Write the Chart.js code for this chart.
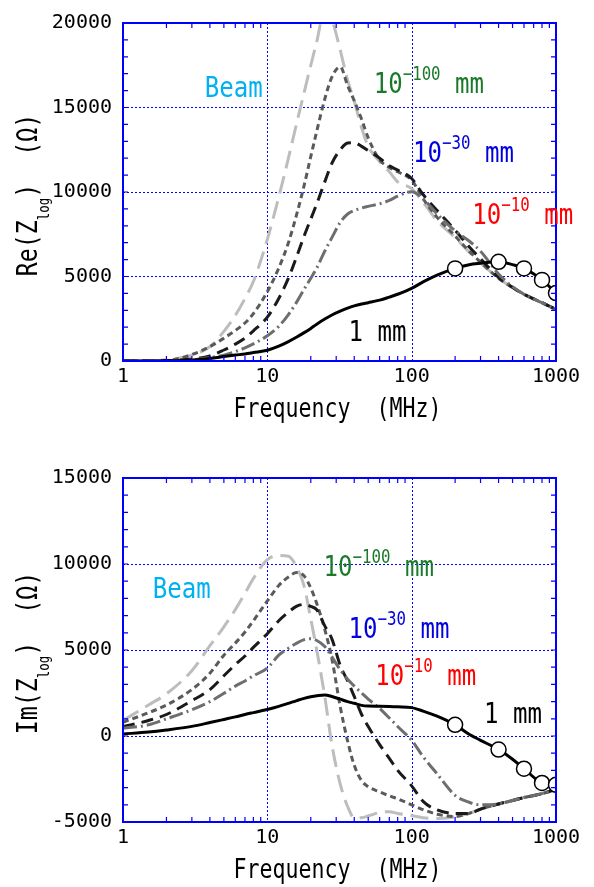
<!DOCTYPE html>
<html>
<head>
<meta charset="utf-8">
<script src="https://cdn.jsdelivr.net/npm/chart.js@4"></script>
<style>
  body { margin: 0; background: #fff; }
  #top, #bottom { position: absolute; left: 0; }
  #top { top: 0; }
  #bottom { top: 440px; }
</style>
</head>
<body>
<canvas id="top" width="594" height="440"></canvas>
<canvas id="bottom" width="594" height="447"></canvas>
<script>
// frequency points (MHz)
const FREQ = [1, 1.5, 2, 3, 4, 5, 6, 7, 8, 10, 12, 14, 16, 18, 20, 22, 25, 28, 32, 36, 40, 45, 50, 60, 70, 80, 100, 120, 150, 200, 250, 300, 400, 500, 600, 800, 1000];
const MEASURED = [200, 400, 600, 800, 1000];
const X_TICKS = [1, 10, 100, 1000];

// Re(Z_log) in ohm
const RE_BEAM = [0, 10, 80, 350, 850, 1750, 2700, 3700, 4700, 7200, 9700, 12000, 14100, 15900, 17500, 18900, 20800, 20200, 18400, 16600, 15400, 13800, 12700, 11800, 11200, 10600, 10200, 9400, 8300, 7300, 6450, 5800, 4900, 4350, 3950, 3450, 3050];
const RE_M100 = [0, 0, 30, 380, 850, 1350, 1800, 2250, 2800, 4100, 5500, 7000, 8700, 10400, 12100, 13600, 15500, 16800, 17400, 16300, 15400, 14300, 13200, 11900, 11450, 11200, 10700, 9600, 8500, 7400, 6500, 5850, 4900, 4350, 3950, 3450, 3050];
const RE_M30 = [0, 0, 20, 120, 300, 650, 1000, 1350, 1780, 2600, 3700, 4900, 6200, 7400, 8400, 9300, 10600, 11700, 12500, 12900, 12920, 12700, 12450, 12000, 11550, 11300, 10800, 9850, 8900, 7740, 6760, 6050, 4950, 4350, 3950, 3450, 3050];
const RE_M10 = [0, 0, 0, 60, 200, 350, 550, 780, 1010, 1490, 2050, 2750, 3500, 4250, 4900, 5500, 6500, 7300, 8200, 8700, 8900, 9050, 9150, 9300, 9500, 9750, 10020, 9600, 8700, 7700, 7100, 6500, 5150, 4400, 3950, 3450, 3050];
const RE_1MM = [0, 0, 10, 60, 150, 260, 350, 420, 500, 640, 880, 1150, 1420, 1680, 1930, 2180, 2480, 2720, 2950, 3130, 3260, 3370, 3450, 3600, 3780, 3950, 4300, 4680, 5080, 5480, 5700, 5780, 5870, 5700, 5480, 4800, 4020];

// Im(Z_log) in ohm
const IM_BEAM = [900, 1800, 2450, 3800, 5250, 6350, 7350, 8300, 9150, 10250, 10500, 10450, 9800, 8700, 6800, 5000, 2300, -500, -2800, -4100, -4750, -4750, -4650, -4450, -4400, -4500, -4620, -4750, -4800, -4700, -4500, -4250, -3950, -3750, -3580, -3350, -3100];
const IM_M100 = [800, 1350, 1800, 2700, 3650, 4700, 5400, 6050, 6700, 7850, 8750, 9250, 9500, 9300, 8600, 7700, 6200, 4500, 1700, -300, -1700, -2600, -2950, -3250, -3480, -3650, -4000, -4280, -4550, -4680, -4500, -4250, -3950, -3750, -3580, -3350, -3100];
const IM_M30 = [550, 900, 1250, 2050, 2700, 3500, 4150, 4650, 5150, 5950, 6700, 7200, 7550, 7650, 7530, 7340, 6400, 5650, 4100, 3200, 2300, 1250, 550, -500, -1300, -2000, -2900, -3800, -4300, -4500, -4500, -4250, -3950, -3750, -3580, -3350, -3100];
const IM_M10 = [450, 650, 1000, 1530, 2000, 2480, 2900, 3200, 3500, 3950, 4700, 5100, 5400, 5600, 5650, 5550, 5200, 4600, 3850, 3300, 2900, 2500, 2150, 1600, 1050, 550, -250, -1200, -2200, -3450, -3850, -4000, -3950, -3750, -3580, -3350, -3100];
const IM_1MM = [117, 230, 350, 560, 780, 960, 1110, 1250, 1360, 1540, 1720, 1900, 2060, 2190, 2280, 2340, 2390, 2300, 2140, 2000, 1900, 1780, 1740, 1730, 1720, 1700, 1650, 1450, 1150, 650, 100, -250, -790, -1350, -1900, -2730, -2840];

const BLUE = '#0000ff';
const FONT = '"DejaVu Sans Mono", monospace';
const SX = 0.83; // narrow gothic look

function pts(arr) {
    return FREQ.map((f, i) => ({ x: f, y: arr[i] }));
}

function supLabel(exp) {
    return [{ t: '10', size: 29 }, { t: exp, size: 19, dy: -13 }, { t: ' mm', size: 29 }];
}

function richWidth(ctx, parts) {
    let w = 0;
    for (const p of parts) {
        ctx.font = p.size + 'px ' + FONT;
        w += ctx.measureText(p.t).width;
    }
    return w * SX;
}

function drawRich(ctx, x, y, parts, color, angle) {
    ctx.save();
    ctx.translate(x, y);
    if (angle) ctx.rotate(angle);
    ctx.scale(SX, 1);
    ctx.fillStyle = color;
    ctx.textAlign = 'left';
    ctx.textBaseline = 'alphabetic';
    let cx = 0;
    for (const p of parts) {
        ctx.font = p.size + 'px ' + FONT;
        ctx.fillText(p.t, cx, p.dy || 0);
        cx += ctx.measureText(p.t).width;
    }
    ctx.restore();
}

// dotted blue decade lines, drawn under the curves
const decadeGrid = {
    id: 'decadeGrid',
    beforeDatasetsDraw(chart) {
        const { ctx, chartArea: a, scales: { x } } = chart;
        ctx.save();
        ctx.strokeStyle = BLUE;
        ctx.lineWidth = 1;
        ctx.setLineDash([2, 2]);
        ctx.beginPath();
        for (const v of X_TICKS) {
            const px = Math.round(x.getPixelForValue(v)) + 0.5;
            ctx.moveTo(px, a.top);
            ctx.lineTo(px, a.bottom);
        }
        ctx.stroke();
        ctx.restore();
    }
};

// frame, inward minor ticks, curve labels and axis titles
const framePlugin = {
    id: 'frame',
    afterDatasetsDraw(chart, args, opts) {
        const { ctx, chartArea: a, scales: { x, y } } = chart;
        ctx.save();
        ctx.strokeStyle = BLUE;
        ctx.lineWidth = 1.2;
        ctx.beginPath();
        for (let d = 1; d < 1000; d *= 10) {
            for (let k = 2; k <= 9; k++) {
                const px = x.getPixelForValue(k * d);
                ctx.moveTo(px, a.bottom); ctx.lineTo(px, a.bottom - 5);
                ctx.moveTo(px, a.top); ctx.lineTo(px, a.top + 5);
            }
        }
        for (let v = y.min + 1000; v < y.max; v += 1000) {
            const py = y.getPixelForValue(v);
            ctx.moveTo(a.left, py); ctx.lineTo(a.left + 5, py);
            ctx.moveTo(a.right, py); ctx.lineTo(a.right - 5, py);
        }
        ctx.stroke();
        ctx.lineWidth = 2;
        ctx.strokeRect(a.left, a.top, a.right - a.left, a.bottom - a.top);
        ctx.restore();

        for (const L of opts.labels) {
            drawRich(ctx, x.getPixelForValue(L.f) - 2, y.getPixelForValue(L.v), L.parts, L.color);
        }

        const xt = [{ t: 'Frequency  (MHz)', size: 26 }];
        const cxm = (a.left + a.right) / 2;
        drawRich(ctx, cxm - richWidth(ctx, xt) / 2 - 2, a.bottom + 56, xt, '#000');

        const yt = [{ t: opts.yName + '(Z', size: 28 }, { t: 'log', size: 15, dy: 12 }, { t: ')  (Ω)', size: 28 }];
        const cym = (a.top + a.bottom) / 2 + 3;
        drawRich(ctx, 37, cym + richWidth(ctx, yt) / 2, yt, '#000', -Math.PI / 2);
    }
};

function makeChart(id, series, yMin, yMax, padTop, xHeight, yName, labels) {
    const styles = [
        { c: '#000000', dash: [] },
        { c: '#6e6e6e', dash: [14, 4, 2, 4] },
        { c: '#1a1a1a', dash: [12, 7] },
        { c: '#5a5a5a', dash: [6, 4] },
        { c: '#bdbdbd', dash: [18, 8] }
    ];
    const datasets = series.map((s, i) => ({
        data: pts(s),
        borderColor: styles[i].c,
        borderDash: styles[i].dash,
        borderWidth: 3,
        fill: false,
        cubicInterpolationMode: 'monotone',
        pointRadius: i === 0 ? (c => (c.raw && MEASURED.includes(c.raw.x) ? 7.5 : 0)) : 0,
        pointHoverRadius: 0,
        pointBackgroundColor: '#fff',
        pointBorderColor: '#000',
        pointBorderWidth: 1.5
    }));
    return new Chart(document.getElementById(id), {
        type: 'line',
        data: { datasets },
        plugins: [decadeGrid, framePlugin],
        options: {
            responsive: false,
            animation: false,
            events: [],
            layout: { padding: { top: padTop, right: 38, left: 0, bottom: 0 } },
            plugins: {
                legend: { display: false },
                tooltip: { enabled: false },
                frame: { labels, yName }
            },
            scales: {
                x: {
                    type: 'logarithmic',
                    min: 1,
                    max: 1000,
                    afterBuildTicks: s => { s.ticks = X_TICKS.map(v => ({ value: v, major: true })); },
                    afterFit: s => { s.height = xHeight; },
                    border: { display: false },
                    grid: { display: false, drawTicks: false },
                    ticks: {
                        autoSkip: false,
                        maxRotation: 0,
                        padding: 4,
                        color: '#000',
                        font: { family: FONT, size: 20 },
                        callback: v => String(v)
                    }
                },
                y: {
                    min: yMin,
                    max: yMax,
                    afterFit: s => { s.width = 123; },
                    border: { display: false, dash: [2, 2] },
                    grid: { drawTicks: false, lineWidth: 1, color: BLUE },
                    ticks: {
                        stepSize: 5000,
                        padding: 11,
                        color: '#000',
                        font: { family: FONT, size: 20 },
                        callback: v => String(v)
                    }
                }
            }
        }
    });
}

const LABELS_RE = [
    { parts: [{ t: 'Beam', size: 29 }], color: '#00b0f0', f: 3.8, v: 15650 },
    { parts: supLabel('−100'), color: '#1a7a2a', f: 56.3, v: 15850 },
    { parts: supLabel('−30'), color: '#0000e0', f: 105.6, v: 11780 },
    { parts: supLabel('−10'), color: '#ff0000', f: 271.5, v: 8090 },
    { parts: [{ t: '1 mm', size: 29 }], color: '#000000', f: 37.7, v: 1205 }
];
const LABELS_IM = [
    { parts: [{ t: 'Beam', size: 29 }], color: '#00b0f0', f: 1.66, v: 8040 },
    { parts: supLabel('−100'), color: '#1a7a2a', f: 25.3, v: 9280 },
    { parts: supLabel('−30'), color: '#0000e0', f: 37.7, v: 5700 },
    { parts: supLabel('−10'), color: '#ff0000', f: 57.8, v: 2980 },
    { parts: [{ t: '1 mm', size: 29 }], color: '#000000', f: 327, v: 756 }
];

makeChart('top', [RE_1MM, RE_M10, RE_M30, RE_M100, RE_BEAM], 0, 20000, 17, 79, 'Re', LABELS_RE);
makeChart('bottom', [IM_1MM, IM_M10, IM_M30, IM_M100, IM_BEAM], -5000, 15000, 38, 65, 'Im', LABELS_IM);
</script>
</body>
</html>
